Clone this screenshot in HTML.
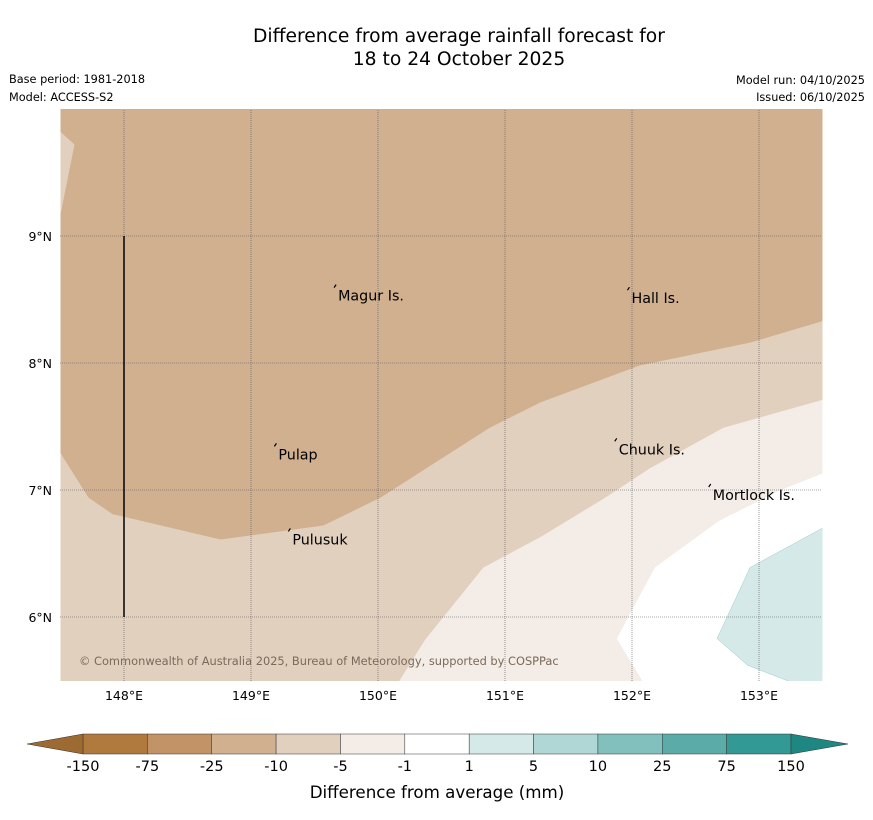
<!DOCTYPE html>
<html><head><meta charset="utf-8"><style>
body{margin:0;background:#fff;width:873px;height:816px;overflow:hidden;font-family:"DejaVu Sans","Liberation Sans",sans-serif}
</style></head><body>
<svg id="chart" width="873" height="816" xmlns="http://www.w3.org/2000/svg" font-family="DejaVu Sans, Liberation Sans, sans-serif">
<text x="459" y="42" text-anchor="middle" font-size="18.7">Difference from average rainfall forecast for</text>
<text x="459" y="65" text-anchor="middle" font-size="18.7">18 to 24 October 2025</text>
<text x="9" y="83" font-size="11.3">Base period: 1981-2018</text>
<text x="9" y="101" font-size="11.3">Model: ACCESS-S2</text>
<text x="865" y="84" text-anchor="end" font-size="11.3">Model run: 04/10/2025</text>
<text x="865" y="101" text-anchor="end" font-size="11.3">Issued: 06/10/2025</text>
<defs><clipPath id="mc"><rect x="60.5" y="109" width="762" height="572"/></clipPath></defs>
<g id="map" clip-path="url(#mc)"></g>
<g id="over"></g>
<g id="cbar"></g>
<text x="437" y="798" text-anchor="middle" font-size="16.7">Difference from average (mm)</text>
</svg>
<script>
const lonTicks=[148,149,150,151,152,153];
const latTicks=[6,7,8,9];
const cbLevels=["-150","-75","-25","-10","-5","-1","1","5","10","25","75","150"];
const cbColors=["#b07a3f","#c19366","#d1b08f","#e2d0bf","#f4ece6","#ffffff","#d5e9e8","#b0d7d5","#82c0bd","#5baca9","#339995"];
const sliverLon=[147.5,147.61,147.5], sliverLat=[9.82,9.72,9.17];
const c10Lon=[147.5,147.72,147.91,148.76,149.57,150.02,150.41,150.88,151.28,152.06,152.93,153.5];
const c10Lat=[7.29,6.94,6.81,6.61,6.72,6.94,7.19,7.49,7.69,7.98,8.16,8.33];
const c5Lon=[150.17,150.37,150.83,151.28,151.79,152.14,152.72,153.5];
const c5Lat=[5.5,5.82,6.39,6.63,6.94,7.17,7.49,7.71];
const c1Lon=[152.08,151.88,152.18,152.69,153.17,153.5];
const c1Lat=[5.5,5.83,6.39,6.76,7.0,7.13];
const tealLon=[153.5,152.93,152.67,152.91,153.22];
const tealLat=[6.70,6.39,5.83,5.62,5.5];
const places=["Magur Is.","Hall Is.","Pulap","Pulusuk","Chuuk Is.","Mortlock Is."];
const placeLon=[149.67,151.98,149.2,149.31,151.88,152.62];
const placeLat=[8.57,8.55,7.32,6.65,7.36,7.0];
const X=lon=>124+(lon-148)*127, Y=lat=>236+(9-lat)*127;
const NS="http://www.w3.org/2000/svg";
function mk(t,a,p){const e=document.createElementNS(NS,t);for(const k in a)e.setAttribute(k,a[k]);p.appendChild(e);return e;}
const map=document.getElementById('map'),over=document.getElementById('over'),cb=document.getElementById('cbar');
function pts(lo,la){return lo.map((v,i)=>X(v)+','+Y(la[i])).join(' ');}
let r=mk('rect',{x:60,y:100,width:770,height:590,fill:cbColors[2]},map);

let p=mk('polygon',{points:'50,95 '+pts(sliverLon,sliverLat)+' 50,300',fill:cbColors[3]},map);

p=mk('polygon',{points:pts(c10Lon,c10Lat)+' 840,330 840,700 50,700',fill:cbColors[3]},map);

p=mk('polygon',{points:pts(c5Lon,c5Lat)+' 840,400 840,700 390,700',fill:cbColors[4]},map);

p=mk('polygon',{points:pts(c1Lon,c1Lat)+' 840,470 840,700 640,700',fill:cbColors[5]},map);

p=mk('polygon',{points:pts(tealLon,tealLat)+' 840,700 840,520',fill:cbColors[6],stroke:'#9cc',"stroke-width":0.5},map);

lonTicks.forEach(v=>{const l=mk('line',{x1:X(v),x2:X(v),y1:110,y2:681,stroke:'#555',"stroke-width":0.6,"stroke-dasharray":"1,1"},over);

const t=mk('text',{x:X(v),y:700,"text-anchor":"middle","font-size":12.5},over);t.textContent=v+'°E';
});
latTicks.forEach(v=>{const l=mk('line',{x1:60,x2:822,y1:Y(v),y2:Y(v),stroke:'#555',"stroke-width":0.6,"stroke-dasharray":"1,1"},over);

const t=mk('text',{x:52,y:Y(v)+5,"text-anchor":"end","font-size":12.5},over);t.textContent=v+'°N';
});
let vl=mk('line',{x1:X(148),x2:X(148),y1:Y(9),y2:Y(6),stroke:'#000',"stroke-width":1.5},over);

places.forEach((n,i)=>{const x=X(placeLon[i]),y=Y(placeLat[i]);
const m=mk('path',{d:`M${x-2},${y-3} l2,-3 M${x-1},${y} l0,0`,stroke:'#000',"stroke-width":1.2,fill:'none'},over);

const t=mk('text',{x:x+2,y:y+10,"font-size":14.3},over);t.textContent=n;
});
let cr=mk('text',{x:79,y:665,"font-size":11.4,fill:'#7a6a5a'},over);cr.textContent='© Commonwealth of Australia 2025, Bureau of Meteorology, supported by COSPPac';

const x0=83,w=(791-83)/11,yt=734,h=20;
cbColors.forEach((c,i)=>{const b=mk('rect',{x:x0+i*w,y:yt,width:w,height:h,fill:c,stroke:'#333',"stroke-width":0.5},cb);
});
let tl=mk('polygon',{points:`${x0},${yt} 27,${yt+10} ${x0},${yt+h}`,fill:'#9d6a31',stroke:'#333',"stroke-width":0.5},cb);

let tr=mk('polygon',{points:`791,${yt} 848,${yt+10} 791,${yt+h}`,fill:'#1f8782',stroke:'#333',"stroke-width":0.5},cb);

cbLevels.forEach((v,i)=>{const t=mk('text',{x:x0+i*w,y:771,"text-anchor":"middle","font-size":14.5},cb);t.textContent=v;
});
</script>
</body></html>
